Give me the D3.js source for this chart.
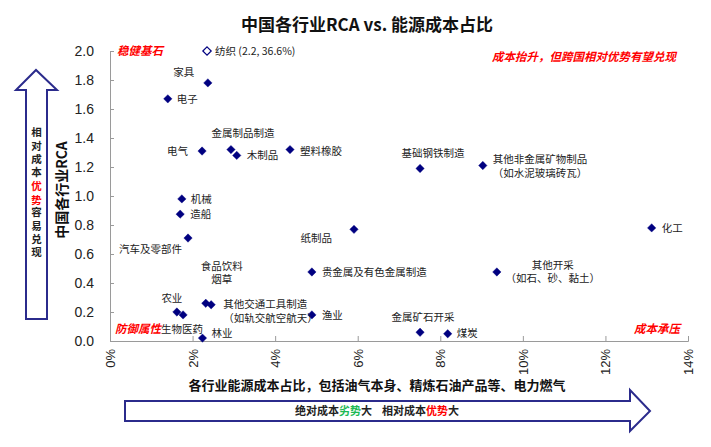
<!DOCTYPE html>
<html><head><meta charset="utf-8">
<script src="https://cdn.jsdelivr.net/npm/d3@7"></script>
<style>
body{margin:0;background:#fff;}
svg{font-family:"Liberation Sans",Arial,"Noto Sans CJK SC",sans-serif;}
.cjk{font-family:"Noto Sans CJK SC","Liberation Sans",sans-serif;}
</style></head>
<body><svg id="c" width="711" height="447"></svg>
<script>
// ---- data ----
const industries = ["纺织","家具","电子","电气","金属制品制造","木制品","塑料橡胶","机械","造船","汽车及零部件","纸制品","化工","基础钢铁制造","其他非金属矿物制品","贵金属及有色金属制造","其他开采","食品饮料烟草","其他交通工具制造","农业","生物医药","林业","渔业","金属矿石开采","煤炭"];
const energyShare = [2.35,2.37,1.40,2.23,2.93,3.07,4.36,1.74,1.70,1.89,5.91,13.12,7.51,9.03,4.89,9.37,2.32,2.45,1.62,1.77,2.24,4.89,7.51,8.18]; // %
const rca = [2.0,1.78,1.67,1.31,1.32,1.28,1.32,0.98,0.875,0.71,0.77,0.78,1.19,1.21,0.476,0.476,0.26,0.25,0.20,0.18,0.02,0.18,0.06,0.05];
const labelLines = [["纺织 (2.2, 36.6%)"],["家具"],["电子"],["电气"],["金属制品制造"],["木制品"],["塑料橡胶"],["机械"],["造船"],["汽车及零部件"],["纸制品"],["化工"],["基础钢铁制造"],["其他非金属矿物制品","（如水泥玻璃砖瓦）"],["贵金属及有色金属制造"],["其他开采","（如石、砂、黏土）"],["食品饮料","烟草"],["其他交通工具制造","（如轨交航空航天）"],["农业"],["生物医药"],["林业"],["渔业"],["金属矿石开采"],["煤炭"]];
const xTicks = [0,2,4,6,8,10,12,14];
const yTicks = [0,0.2,0.4,0.6,0.8,1.0,1.2,1.4,1.6,1.8,2.0];

// label placement (anchor, dx, dy of first line)
const labelPos = [
 ["start",8,0],["middle",-24,-11],["start",9,0],["end",-14,0],["middle",12,-16],["start",10,0],["start",10,2],
 ["start",9,0],["start",10,0],["end",-6,11],["end",-22,9],["start",10,0],["middle",13,-15],["start",10,-6],
 ["start",10,0],["middle",56,-7],["middle",16,-37],["start",12,0],["middle",-5,-14],["start",-22,14],
 ["start",9,-5],["start",10,0],["middle",3,-15],["start",9,0]];

const svg = d3.select("#c");
const L=110,R=688,T=51,B=341;
const x = d3.scaleLinear().domain([0,14]).range([L,R]);
const y = d3.scaleLinear().domain([0,2]).range([B,T]);
const axisColor="#9a9a9a";

// title
svg.append("text").attr("class","cjk").attr("x",367).attr("y",31).attr("text-anchor","middle")
 .attr("font-size",17).attr("font-weight","bold").attr("fill","#111").text("中国各行业RCA vs. 能源成本占比");

// axes
const xAxis = svg.append("g").attr("transform",`translate(0,${B})`)
 .call(d3.axisBottom(x).tickValues(xTicks).tickSize(-5).tickFormat(d=>d+"%"));
xAxis.select(".domain").attr("stroke",axisColor);
xAxis.selectAll(".tick line").attr("stroke",axisColor);
xAxis.selectAll(".tick text").attr("transform","rotate(-90)").attr("text-anchor","end")
 .attr("x",-8).attr("y",0).attr("dy","0.35em").attr("font-size",13).attr("fill","#222")
 .attr("font-family","Liberation Sans,Arial,sans-serif");

const yAxis = svg.append("g").attr("transform",`translate(${L},0)`)
 .call(d3.axisLeft(y).tickValues(yTicks).tickSize(-4).tickPadding(16).tickFormat(d3.format(".1f")));
yAxis.select(".domain").attr("stroke",axisColor);
yAxis.selectAll(".tick line").attr("stroke",axisColor);
yAxis.selectAll(".tick text").attr("font-size",14).attr("fill","#222")
 .attr("font-family","Liberation Sans,Arial,sans-serif");

// axis titles
svg.append("text").attr("class","cjk").attr("transform","translate(67,190) rotate(-90)").attr("text-anchor","middle")
 .attr("font-size",14).attr("font-weight","bold").attr("fill","#111").text("中国各行业RCA");
svg.append("text").attr("class","cjk").attr("x",377).attr("y",390).attr("text-anchor","middle")
 .attr("font-size",13).attr("font-weight","bold").attr("fill","#111").text("各行业能源成本占比，包括油气本身、精炼石油产品等、电力燃气");

// points (rotated-square diamonds)
const pts = industries.map((n,i)=>({n,x:energyShare[i],y:rca[i],lines:labelLines[i],pos:labelPos[i],hollow:i===0}));
svg.append("g").selectAll("path").data(pts).join("path")
 .attr("d","M0,-4.2L4.2,0L0,4.2L-4.2,0Z").attr("transform",d=>`translate(${x(d.x)},${y(d.y)})`)
 .attr("fill",d=>d.hollow?"#fff":"#000080").attr("stroke","#000080").attr("stroke-width",d=>d.hollow?1.2:0.4);

// point labels
const lg = svg.append("g").attr("class","cjk").attr("font-size",10.5).attr("fill","#222");
pts.forEach(d=>{
  const t = lg.append("text").attr("text-anchor",d.pos[0])
    .attr("x",x(d.x)+d.pos[1]).attr("y",y(d.y)+d.pos[2]);
  d.lines.forEach((ln,j)=>{
    t.append("tspan").attr("x",x(d.x)+d.pos[1]).attr("dy",j===0?"0.35em":"13.5px").text(ln);
  });
});

// red italic corner notes
const notes = [["稳健基石",117,51,"start"],["成本抬升，但跨国相对优势有望兑现",676,57,"end"],["防御属性",115,329,"start"],["成本承压",680,329,"end"]];
svg.append("g").attr("class","cjk").selectAll("text").data(notes).join("text")
 .attr("x",d=>d[1]).attr("y",d=>d[2]).attr("dy","0.35em").attr("text-anchor",d=>d[3])
 .attr("font-size",11.5).attr("font-style","italic").attr("font-weight","bold").attr("fill","#ff0000").text(d=>d[0]);

// left vertical arrow
const navy="#2b2b8c";
svg.append("path").attr("d","M26,319 L26,90 L16,90 L36,70 L57,90 L47,90 L47,319 Z")
 .attr("fill","#fff").attr("stroke",navy).attr("stroke-width",2);
const vt = svg.append("text").attr("class","cjk").attr("x",36.5).attr("y",127)
 .style("writing-mode","vertical-rl").style("text-orientation","upright").style("letter-spacing","2.9px")
 .attr("font-size",10.5).attr("font-weight","bold").attr("fill","#222");
[["相对成本","#222"],["优势","#ff0000"],["容易兑现","#222"]]
 .forEach(s=>vt.append("tspan").attr("fill",s[1]).text(s[0]));

// bottom horizontal arrow
svg.append("path").attr("d","M125,401 L630,401 L630,390 L650,411 L630,431 L630,421 L125,421 Z")
 .attr("fill","#fff").attr("stroke",navy).attr("stroke-width",2);
const bt = svg.append("text").attr("class","cjk").attr("x",377).attr("y",411).attr("dy","0.35em")
 .attr("text-anchor","middle").attr("font-size",11).attr("font-weight","bold").attr("fill","#222");
[["绝对成本","#222"],["劣势","#1db954"],["大    相对成本","#222"],["优势","#ff0000"],["大","#222"]]
 .forEach(s=>bt.append("tspan").attr("fill",s[1]).attr("xml:space","preserve").text(s[0]));
</script></body></html>
